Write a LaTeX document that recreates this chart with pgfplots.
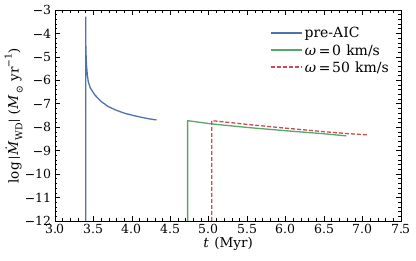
\documentclass[border=0pt]{standalone}
\usepackage{pgfplots}
\pgfplotsset{compat=1.18}
\usepackage{unicode-math}
\setmainfont{DejaVu Serif}
\setmathfont{DejaVu Math TeX Gyre}
\definecolor{cblue}{HTML}{4C72B0}
\definecolor{cgreen}{HTML}{55A868}
\definecolor{cred}{HTML}{C44E52}
\begin{document}
\begin{tikzpicture}
\useasboundingbox (-55pt,-40pt) rectangle (361pt,221pt);
\begin{axis}[
  scale only axis, width=346pt, height=211pt,
  xmin=3, xmax=7.5, ymin=-12, ymax=-3,
  xtick={3,3.5,...,7.5}, ytick={-12,-11,...,-3},
  minor x tick num=4, minor y tick num=4,
  tick align=inside, ticks=both,
  xtick pos=both, ytick pos=both,
  major tick length=5pt, minor tick length=2.5pt,
  every tick/.style={black, line width=0.6pt},
  axis line style={black, line width=0.9pt},
  xticklabel style={/pgf/number format/.cd, fixed, fixed zerofill, precision=1},
  tick label style={font=\fontsize{12.5}{15}\selectfont},
  label style={font=\fontsize{13.5}{16}\selectfont},
  xlabel={$t$ (Myr)},
  ylabel={$\log|\dot{M}_{\mathrm{WD}}|\;(M_{\odot}\ \mathrm{yr}^{-1})$},
  xlabel style={yshift=4pt},
  ylabel style={yshift=-4pt},
  legend style={draw=none, fill=none, at={(0.612,0.937)}, anchor=north west, font=\fontsize{14}{16}\selectfont, row sep=1pt},
  legend cell align=left,
  legend image code/.code={\draw[#1, line width=1.6pt] (0pt,0.3pt) -- (31pt,0.3pt);},
]
\addplot[cblue, line width=1.3pt] coordinates {
(3.400,-12) (3.400,-3.28) (3.401,-4.5) (3.405,-5.0) (3.41,-5.35) (3.42,-5.75) (3.433,-6.06)
(3.46,-6.33) (3.52,-6.63) (3.6,-6.9) (3.693,-7.12) (3.8,-7.28) (3.91,-7.41)
(4.02,-7.50) (4.127,-7.58) (4.22,-7.64) (4.32,-7.69)};
\addlegendentry{pre-AIC}
\addplot[cgreen, line width=1.3pt] coordinates {
(4.725,-12) (4.725,-7.72) (5.04,-7.86) (5.5,-8.01) (6.0,-8.15) (6.5,-8.28) (6.79,-8.37)};
\addlegendentry{$\omega\,{=}\,0$ km/s}
\addplot[cred, line width=1.3pt, dash pattern=on 4pt off 2pt] coordinates {
(5.04,-12) (5.04,-7.72) (5.5,-7.88) (6.0,-8.04) (6.5,-8.19) (6.8,-8.27) (7.08,-8.33)};
\addlegendentry{$\omega\,{=}\,50$ km/s}
\end{axis}
\end{tikzpicture}
\end{document}
